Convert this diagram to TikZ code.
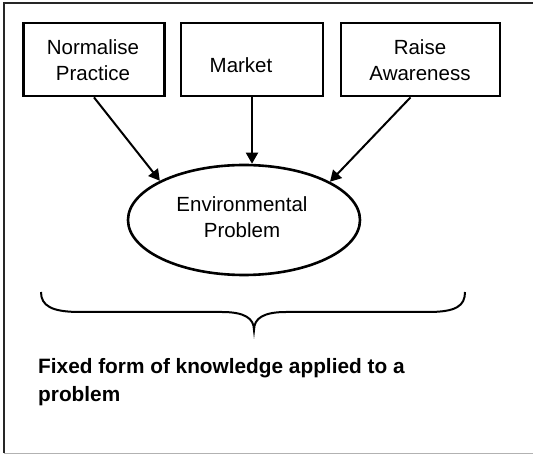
\documentclass[tikz,border=0pt]{standalone}
\usepackage{fontspec}
\setmainfont{Liberation Sans}
\usetikzlibrary{shapes.geometric,arrows.meta}
\begin{document}
\begin{tikzpicture}[x=1pt,y=-1pt,
  box/.style={draw,line width=2.8pt,minimum width=#1,minimum height=73pt,inner sep=0pt},
  arr/.style={line width=2pt,-{Triangle[length=11pt,width=12pt]}},
  lbl/.style={font=\fontsize{20.5}{26}\selectfont,align=center,inner sep=0pt}]
\useasboundingbox (0,0) rectangle (533,454);
\fill[white] (0,0) rectangle (533,454);
% frame
\coordinate (tl) at (4,3);
\coordinate (tr) at (533,3);
\coordinate (bl) at (4,453);
\coordinate (br) at (533,453);
\draw[line width=1.6pt,black!85] (tr) -- (tl) -- (bl);
\draw[line width=0.8pt,black!30] (bl) -- (br);
% boxes
\node[box=141pt] (np) at (94,59.5) {};
\node[lbl] (npt) at (93,60) {Normalise\\Practice};
\node[box=142pt] (mk) at (252,59.5) {};
\node[lbl] (mkt) at (241,65) {Market};
\node[box=159pt] (ra) at (420.5,59.5) {};
\node[lbl] (rat) at (420,60) {Raise\\Awareness};
% ellipse
\node[draw,ellipse,line width=2.6pt,minimum width=232pt,minimum height=110pt,inner sep=0pt] (env) at (244,220) {};
\node[lbl] (envt) at (242,217) {Environmental\\Problem};
% arrows
\draw[arr] (np.south) -- (env.155);
\draw[arr] (mk.south) -- (mk.south |- env.north);
\draw[arr] ([xshift=-10pt]ra.south) -- (env.24);
% brace
\coordinate (bL) at (41,292);
\coordinate (bR) at (465,292);
\coordinate (bT) at (254,330);
\draw[line width=2pt] (bL) .. controls (41,306) and (52,312) .. (80,312) -- (222,312)
  .. controls (244,312) and (254,318) .. (bT)
  .. controls (254,318) and (264,312) .. (286,312) -- (428,312)
  .. controls (456,312) and (465,306) .. (bR);
% caption
\node[font=\bfseries\fontsize{20.8}{28}\selectfont,align=left,anchor=west,inner sep=0pt] (cap) at (38,382) {Fixed form of knowledge applied to a\\problem};
\end{tikzpicture}
\end{document}
